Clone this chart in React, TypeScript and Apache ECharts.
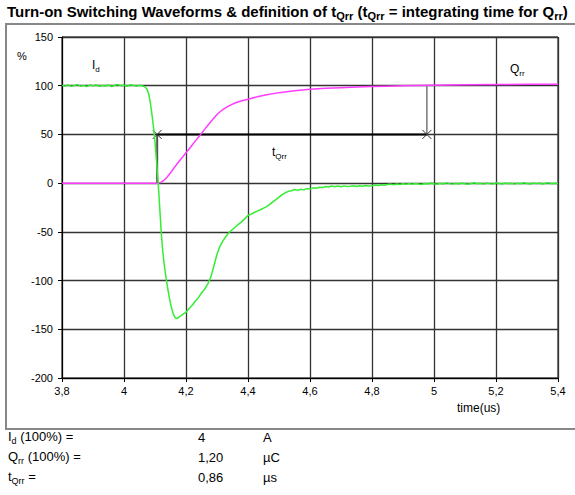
import React, { useEffect, useRef } from "react";
import * as echarts from "echarts";

// Time axis ticks (µs) and percent axis
const xTicks = [3.8, 4.0, 4.2, 4.4, 4.6, 4.8, 5.0, 5.2, 5.4];
const yTicks = [-200, -150, -100, -50, 0, 50, 100, 150];

// Id waveform (% of 4 A) : [time µs, %]
const idCurve: [number, number][] = [
  [3.80, 100.4], [3.81, 99.6], [3.82, 100.9], [3.83, 99.3], [3.84, 100.2], [3.85, 101.1], [3.86, 99.5], [3.87, 100.3],
  [3.88, 99.1], [3.89, 100.7], [3.90, 99.8], [3.91, 100.9], [3.92, 99.4], [3.93, 100.2], [3.94, 99.7], [3.95, 100.8],
  [3.96, 99.2], [3.97, 100.5], [3.98, 101.3], [3.99, 99.9], [4.00, 100.6], [4.01, 99.5], [4.02, 101.0], [4.03, 100.2],
  [4.04, 99.6], [4.05, 100.4], [4.06, 99.7], [4.065, 99.2], [4.07, 98.0], [4.075, 95.8], [4.08, 91.0], [4.085, 82.5],
  [4.09, 71.0], [4.095, 58.0], [4.10, 42.0], [4.105, 22.0], [4.11, 2.0], [4.115, -24.0], [4.12, -50.0], [4.125, -70.0],
  [4.13, -84.0], [4.135, -96.0], [4.14, -106.0], [4.145, -115.5], [4.15, -123.5], [4.155, -130.0], [4.16, -135.0],
  [4.165, -138.0], [4.17, -139.0], [4.175, -138.2], [4.18, -136.8], [4.185, -136.0], [4.19, -134.6], [4.195, -133.4],
  [4.20, -132.5], [4.21, -128.6], [4.22, -125.4], [4.23, -121.2], [4.24, -117.5], [4.25, -112.8], [4.26, -108.9],
  [4.27, -103.6], [4.28, -96.5], [4.29, -85.0], [4.30, -73.0], [4.31, -64.5], [4.32, -58.8], [4.33, -54.2], [4.34, -50.3],
  [4.35, -47.6], [4.36, -44.8], [4.37, -42.1], [4.38, -39.5], [4.39, -36.4], [4.40, -33.2], [4.41, -31.8], [4.42, -30.1],
  [4.43, -28.7], [4.44, -27.3], [4.45, -25.6], [4.46, -24.1], [4.47, -21.8], [4.48, -19.2], [4.49, -16.9], [4.50, -14.3],
  [4.51, -11.8], [4.52, -9.9], [4.53, -8.4], [4.54, -7.8], [4.55, -6.5], [4.56, -7.4], [4.57, -6.2], [4.58, -6.9],
  [4.59, -5.6], [4.60, -6.1], [4.61, -4.8], [4.62, -5.3], [4.63, -4.2], [4.64, -4.6], [4.65, -3.4], [4.66, -3.9],
  [4.67, -2.9], [4.68, -3.7], [4.69, -3.0], [4.70, -3.6], [4.71, -2.8], [4.72, -3.5], [4.73, -3.1], [4.74, -2.6],
  [4.75, -3.4], [4.76, -2.7], [4.77, -3.2], [4.78, -2.4], [4.79, -3.0], [4.80, -2.6], [4.81, -1.9], [4.82, -2.5],
  [4.83, -1.6], [4.84, -2.1], [4.85, -1.3], [4.86, -1.0], [4.87, -1.7], [4.88, -0.9], [4.89, -1.4], [4.90, -0.6],
  [4.91, -1.2], [4.92, -0.5], [4.93, -1.1], [4.94, -0.3], [4.95, -0.9], [4.96, -1.3], [4.97, -0.4], [4.98, -0.8],
  [4.99, 0.1], [5.00, -0.7], [5.01, -1.2], [5.02, -0.2], [5.03, -0.9], [5.04, 0.3], [5.05, -0.5], [5.06, -1.0],
  [5.07, -0.1], [5.08, -0.8], [5.09, 0.2], [5.10, -0.6], [5.11, -1.1], [5.12, -0.3], [5.13, 0.4], [5.14, -0.7],
  [5.15, -0.2], [5.16, -1.0], [5.17, 0.1], [5.18, -0.5], [5.19, -0.9], [5.20, 0.3], [5.21, -0.4], [5.22, -0.8],
  [5.23, 0.2], [5.24, -0.6], [5.25, -0.1], [5.26, -1.0], [5.27, 0.0], [5.28, -0.7], [5.29, 0.4], [5.30, -0.3],
  [5.31, -0.9], [5.32, 0.1], [5.33, -0.5], [5.34, 0.2], [5.35, -0.8], [5.36, -0.2], [5.37, 0.3], [5.38, -0.6],
  [5.39, 0.0], [5.40, -0.4],
];

// Integrated charge Qrr (% of 1.20 µC) : [time µs, %]
const qrrCurve: [number, number][] = [
  [3.80, 0], [4.11, 0], [4.12, 1.0], [4.13, 3.2], [4.14, 6.6], [4.15, 10.6], [4.16, 15.0], [4.17, 19.3],
  [4.18, 23.3], [4.19, 27.2], [4.20, 31.1], [4.21, 35.1], [4.22, 39.1], [4.23, 43.1], [4.24, 47.1], [4.25, 51.1],
  [4.26, 55.2], [4.27, 59.2], [4.28, 63.1], [4.29, 66.9], [4.30, 70.5], [4.31, 73.3], [4.32, 75.7], [4.33, 77.8],
  [4.34, 79.6], [4.36, 82.5], [4.38, 84.6], [4.40, 86.2], [4.43, 88.6], [4.46, 90.7], [4.50, 92.9], [4.55, 94.9],
  [4.60, 96.3], [4.65, 97.3], [4.70, 98.0], [4.75, 98.6], [4.80, 99.1], [4.85, 99.5], [4.90, 99.9], [5.00, 100.5],
  [5.10, 100.9], [5.20, 101.2], [5.30, 101.4], [5.40, 101.6],
];

// tQrr definition: start and end times (µs) at 50 %
const tQrrStart = 4.107;
const tQrrEnd = 4.977;
const tQrrLevel = 50;
const startDrop: [number, number][] = [[tQrrStart, 0], [tQrrStart, tQrrLevel]];
const endDrop: [number, number][] = [[tQrrEnd, tQrrLevel], [tQrrEnd, 100]];
const tQrrBar: [number, number][] = [[tQrrStart, tQrrLevel], [tQrrEnd, tQrrLevel]];

// Table below chart
const tableLabels = ["{m|I}{s|d}{m| (100%) =}", "{m|Q}{s|rr}{m| (100%) =}", "{m|t}{s|Qrr}{m| =}"];
const tableValues = ["4", "1,20", "0,86"];
const tableUnits = ["A", "µC", "µs"];

const FONT = "'Liberation Sans', Arial, sans-serif";

const richSub = (size: number, weight: string = "normal") => ({
  m: { fontSize: size, fontWeight: weight, fontFamily: FONT, color: "#000", lineHeight: size + 4, verticalAlign: "middle" },
  s: { fontSize: Math.round(size * 0.7), fontWeight: weight, fontFamily: FONT, color: "#000", lineHeight: Math.round(size * 0.7), verticalAlign: "bottom" },
});

export default function App() {
  const ref = useRef<HTMLDivElement>(null);
  useEffect(() => {
    if (!ref.current) return;
    const chart = echarts.init(ref.current, null, { renderer: "svg" });
    const graphics: any[] = [
      { type: "rect", shape: { x: 6, y: 24, width: 640, height: 405 }, style: { fill: "none", stroke: "#888", lineWidth: 2 }, z: 0 },
      {
        type: "text", left: 7, top: 4,
        style: {
          text: "{m|Turn-on Switching Waveforms & definition of t}{s|Qrr}{m| (t}{s|Qrr}{m| = integrating time for Q}{s|rr}{m|)}",
          rich: richSub(15, "bold"),
        },
      },
      { type: "text", left: 17, top: 50, style: { text: "%", font: `11px ${FONT}`, fill: "#000" } },
      { type: "text", left: 92, top: 59, style: { text: "{m|I}{s|d}", rich: richSub(12) } },
      { type: "text", left: 510, top: 63, style: { text: "{m|Q}{s|rr}", rich: richSub(12) } },
      { type: "text", left: 272, top: 146, style: { text: "{m|t}{s|Qrr}", rich: richSub(12) } },
      { type: "text", left: 457, top: 402, style: { text: "time(us)", font: `12px ${FONT}`, fill: "#000" } },
    ];
    tableLabels.forEach((lab, i) => {
      const top = 430 + i * 20;
      graphics.push({ type: "text", left: 8, top, style: { text: lab, rich: richSub(13) } });
      graphics.push({ type: "text", left: 198, top: top + 1, style: { text: tableValues[i], font: `13px ${FONT}`, fill: "#000" } });
      graphics.push({ type: "text", left: 263, top: top + 1, style: { text: tableUnits[i], font: `13px ${FONT}`, fill: "#000" } });
    });

    chart.setOption({
      animation: false,
      backgroundColor: "#fff",
      textStyle: { fontFamily: FONT },
      grid: { left: 62, top: 37, width: 496, height: 341, show: true, borderColor: "#000", borderWidth: 1, backgroundColor: "transparent" },
      xAxis: {
        type: "value", min: xTicks[0], max: xTicks[xTicks.length - 1], interval: 0.2,
        axisLine: { show: true, onZero: false, lineStyle: { color: "#000", width: 1 } },
        axisTick: { show: true, length: 4, lineStyle: { color: "#000" } },
        splitLine: { show: true, lineStyle: { color: "#333", width: 1.3 } },
        axisLabel: { color: "#000", fontSize: 11, margin: 7, formatter: (v: number) => String(Math.round(v * 10) / 10).replace(".", ",") },
      },
      yAxis: {
        type: "value", min: yTicks[0], max: yTicks[yTicks.length - 1], interval: 50,
        axisLine: { show: true, onZero: false, lineStyle: { color: "#000", width: 1 } },
        axisTick: { show: true, length: 4, lineStyle: { color: "#000" } },
        splitLine: { show: true, lineStyle: { color: "#333", width: 1.3 } },
        axisLabel: { color: "#000", fontSize: 11, margin: 9 },
      },
      graphic: graphics,
      series: [
        { type: "line", data: startDrop, showSymbol: false, lineStyle: { color: "#555", width: 2 }, z: 3 },
        { type: "line", data: endDrop, showSymbol: false, lineStyle: { color: "#777", width: 1.5 }, z: 3 },
        {
          type: "line", data: tQrrBar, showSymbol: true, symbol: "path://M0 0L10 10M10 0L0 10", symbolSize: 9,
          itemStyle: { color: "none", borderColor: "#333", borderWidth: 1 },
          lineStyle: { color: "#000", width: 2 }, z: 4,
        },
        { type: "line", data: qrrCurve, showSymbol: false, lineStyle: { color: "#ff3cff", width: 1.5 }, z: 5 },
        { type: "line", data: idCurve, showSymbol: false, lineStyle: { color: "#33ee33", width: 1.5 }, z: 6 },
      ],
    });
    return () => chart.dispose();
  }, []);
  return <div ref={ref} style={{ position: "fixed", left: 0, top: 0, width: 575, height: 495 }} />;
}
